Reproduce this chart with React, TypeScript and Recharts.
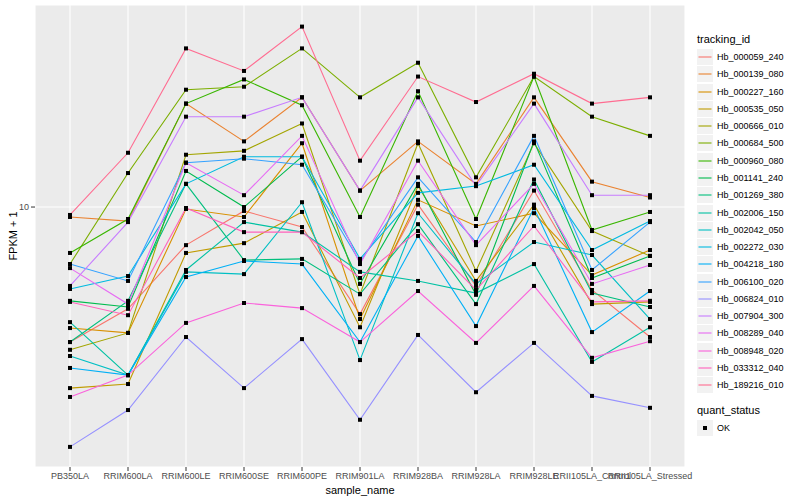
import { CartesianGrid, Line, LineChart, XAxis, YAxis } from 'recharts';

document.body.style.margin = '0';

// ---- data (FPKM + 1) ----
const SAMPLES = [
  'PB350LA',
  'RRIM600LA',
  'RRIM600LE',
  'RRIM600SE',
  'RRIM600PE',
  'RRIM901LA',
  'RRIM928BA',
  'RRIM928LA',
  'RRIM928LE',
  'RRII105LA_Control',
  'RRII105LA_Stressed',
];

const TRACKING_IDS = [
  'Hb_000059_240',
  'Hb_000139_080',
  'Hb_000227_160',
  'Hb_000535_050',
  'Hb_000666_010',
  'Hb_000684_500',
  'Hb_000960_080',
  'Hb_001141_240',
  'Hb_001269_380',
  'Hb_002006_150',
  'Hb_002042_050',
  'Hb_002272_030',
  'Hb_004218_180',
  'Hb_006100_020',
  'Hb_006824_010',
  'Hb_007904_300',
  'Hb_008289_040',
  'Hb_008948_020',
  'Hb_033312_040',
  'Hb_189216_010',
];

const COLORS = [
  '#F8766D', '#EA8331', '#D89000', '#C09B00', '#A3A500',
  '#7CAE00', '#39B600', '#00BB4E', '#00BF7D', '#00C1A3',
  '#00BFC4', '#00BAE0', '#00B0F6', '#35A2FF', '#9590FF',
  '#C77CFF', '#E76BF3', '#FA62DB', '#FF62BC', '#FF6C91',
];

const hb000059 = [5.74, 6.58, 8.55, 9.84, 9.21, 6.44, 10.1, 7.23, 10.7, 7.11, 5.86];
const hb000139 = [9.6, 9.44, 15.3, 13.1, 15.7, 10.7, 13.1, 11.0, 15.7, 11.1, 10.4];
const hb000227 = [6.08, 5.96, 9.92, 9.6, 13.0, 6.31, 10.3, 9.25, 9.75, 7.56, 8.38];
const hb000535 = [4.75, 4.83, 8.28, 8.62, 9.8, 6.1, 10.9, 7.38, 10.1, 6.71, 6.77];
const hb000666 = [5.56, 5.96, 12.4, 12.6, 14.1, 6.99, 13.0, 7.69, 13.0, 9.06, 8.18];
const hb000684 = [7.91, 11.5, 16.2, 16.4, 19.2, 15.7, 18.1, 11.3, 17.1, 14.5, 13.4];
const hb000960 = [8.28, 9.52, 15.3, 16.9, 15.2, 9.6, 16.1, 9.52, 17.1, 9.1, 9.8];
const hb001141 = [6.8, 6.63, 11.6, 10.0, 12.3, 7.29, 11.0, 6.97, 13.1, 7.47, 8.18];
const hb001269 = [5.74, 6.8, 11.0, 8.04, 8.08, 6.99, 9.32, 6.71, 11.2, 7.02, 6.63];
const hb002006 = [6.23, 5.01, 7.72, 9.4, 9.02, 7.66, 7.38, 7.02, 7.91, 5.29, 6.1];
const hb002042 = [5.42, 5.01, 7.66, 7.59, 10.2, 5.33, 9.75, 7.29, 8.66, 8.21, 6.31];
const hb002272 = [7.14, 7.53, 11.0, 12.3, 12.3, 8.08, 10.6, 10.9, 11.9, 8.38, 9.44];
const hb004218 = [5.16, 5.01, 7.5, 8.01, 7.91, 5.74, 8.88, 6.13, 9.96, 5.98, 7.08];
const hb006100 = [7.91, 7.38, 12.0, 12.2, 11.9, 7.98, 11.3, 8.66, 13.4, 7.72, 9.4];
const hb006824 = [3.73, 4.34, 5.86, 4.75, 5.81, 4.17, 5.91, 4.67, 5.72, 4.6, 4.38];
const hb007904 = [7.23, 9.4, 14.5, 14.5, 15.7, 10.7, 15.7, 10.9, 15.3, 10.5, 10.5];
const hb008289 = [7.78, 6.71, 12.0, 10.5, 13.4, 7.91, 12.1, 8.55, 11.0, 7.29, 7.88];
const hb008948 = [4.58, 5.01, 6.21, 6.74, 6.6, 5.74, 7.08, 5.72, 7.23, 5.38, 5.76];
const hb033312 = [6.77, 6.41, 9.96, 9.02, 9.02, 7.47, 9.06, 7.11, 9.25, 6.77, 6.8];
const hb189216 = [9.68, 12.5, 19.2, 17.5, 21.0, 12.1, 17.1, 15.4, 17.3, 15.3, 15.7];

const SERIES = [
  hb000059, hb000139, hb000227, hb000535, hb000666,
  hb000684, hb000960, hb001141, hb001269, hb002006,
  hb002042, hb002272, hb004218, hb006100, hb006824,
  hb007904, hb008289, hb008948, hb033312, hb189216,
];

const Y_TICKS = [10];
const Y_DOMAIN = [3.434, 22.95];

const rows = SAMPLES.map((s, i) => {
  const row: Record<string, string | number> = { sample: s };
  TRACKING_IDS.forEach((id, k) => {
    row[id] = SERIES[k][i];
  });
  return row;
});

const FONT = '"Liberation Sans", Arial, Helvetica, sans-serif';

function SquareDot(props: any) {
  const { cx, cy } = props;
  if (cx == null || cy == null) return null;
  return <rect x={cx - 2} y={cy - 2} width={4} height={4} fill="#000" />;
}

function GgLegend() {
  return (
    <div
      style={{
        position: 'absolute',
        left: 697,
        top: 0,
        width: 103,
        fontFamily: FONT,
        color: '#000',
      }}
    >
      <div style={{ position: 'absolute', top: 33, left: 0, fontSize: 11, whiteSpace: 'nowrap' }}>
        tracking_id
      </div>
      {TRACKING_IDS.map((id, i) => (
        <div
          key={id}
          style={{ position: 'absolute', top: 49 + i * 17.28, left: 0, height: 17, width: 103 }}
        >
          <svg width={17} height={17} style={{ position: 'absolute', left: 0, top: 0 }}>
            <rect x={0} y={0} width={16} height={16} fill="#F2F2F2" />
            <line x1={1.5} x2={14.5} y1={8} y2={8} stroke={COLORS[i]} strokeWidth={1.1} />
          </svg>
          <span
            style={{
              position: 'absolute',
              left: 20,
              top: 2,
              fontSize: 9,
              lineHeight: '12px',
              whiteSpace: 'nowrap',
            }}
          >
            {id}
          </span>
        </div>
      ))}
      <div style={{ position: 'absolute', top: 404, left: 0, fontSize: 11, whiteSpace: 'nowrap' }}>
        quant_status
      </div>
      <div style={{ position: 'absolute', top: 420, left: 0, height: 17, width: 103 }}>
        <svg width={17} height={17} style={{ position: 'absolute', left: 0, top: 0 }}>
          <rect x={0} y={0} width={16} height={16} fill="#F2F2F2" />
          <rect x={6} y={6} width={4} height={4} fill="#000" />
        </svg>
        <span style={{ position: 'absolute', left: 20, top: 2, fontSize: 9, lineHeight: '12px' }}>
          OK
        </span>
      </div>
    </div>
  );
}

export default function App() {
  return (
    <div style={{ position: 'relative', width: 800, height: 500, background: '#fff' }}>
      <LineChart
        width={800}
        height={500}
        data={rows}
        margin={{ top: 5, right: 115, bottom: 0, left: 0 }}
        style={{ fontFamily: FONT }}
      >
        <CartesianGrid stroke="#FFFFFF" strokeWidth={1.1} fill="#EBEBEB" fillOpacity={1} />
        <XAxis
          dataKey="sample"
          interval={0}
          height={33}
          padding={{ left: 35, right: 35 }}
          axisLine={false}
          tickLine={{ stroke: '#333333' }}
          tickSize={4}
          tickMargin={2}
          tick={{ fontSize: 9, fill: '#4D4D4D' }}
          label={{
            value: 'sample_name',
            position: 'insideBottom',
            offset: 6,
            style: { fontSize: 11, fill: '#000' },
          }}
        />
        <YAxis
          type="number"
          scale="log"
          domain={Y_DOMAIN}
          allowDataOverflow
          ticks={Y_TICKS}
          width={35}
          axisLine={false}
          tickLine={{ stroke: '#333333' }}
          tickSize={4}
          tickMargin={2}
          tick={{ fontSize: 9, fill: '#4D4D4D' }}
          label={{
            value: 'FPKM + 1',
            angle: -90,
            position: 'insideLeft',
            offset: 13,
            style: { fontSize: 11, fill: '#000', textAnchor: 'middle' },
          }}
        />
        {TRACKING_IDS.map((id, i) => (
          <Line
            key={id}
            type="linear"
            dataKey={id}
            stroke={COLORS[i]}
            strokeWidth={1.1}
            dot={false}
            activeDot={false}
            isAnimationActive={false}
          />
        ))}
        {TRACKING_IDS.map((id) => (
          <Line
            key={`${id}-pts`}
            type="linear"
            dataKey={id}
            stroke="none"
            strokeOpacity={0}
            dot={<SquareDot />}
            activeDot={false}
            legendType="none"
            isAnimationActive={false}
          />
        ))}
      </LineChart>
      <GgLegend />
    </div>
  );
}
